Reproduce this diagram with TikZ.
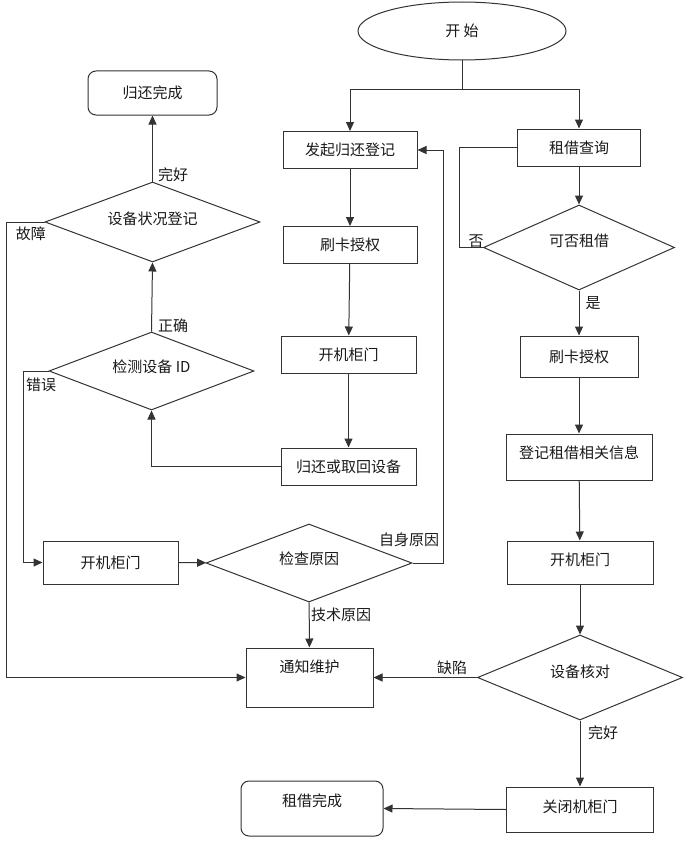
\documentclass[tikz,border=0pt]{standalone}
\usepackage{fontspec}
\setmainfont{Noto Sans CJK SC}
\usetikzlibrary{shapes.geometric,arrows.meta}

\begin{document}
\begin{tikzpicture}[x=1pt,y=-1pt,line width=1pt,draw=black!80,
  every node/.style={font=\fontsize{15}{18}\selectfont,text=black!90},
  box/.style={draw,rectangle,inner sep=0pt},
  dia/.style={draw,diamond,shape aspect=2.5,inner sep=0pt},
  lift/.style={text height=12pt,text depth=#1},
  arr/.style={-{Triangle[length=9pt,width=8pt]}}]
\useasboundingbox (0,0) rectangle (692,843);

\node[draw,ellipse,minimum width=208pt,minimum height=58pt](Start) at (462,31) {开 始};
\coordinate (Split) at (462,89);

\node[box,minimum width=134pt,minimum height=37pt](Ret) at (350,150) {发起归还登记};
\node[box,minimum width=134pt,minimum height=37pt](Card1) at (350,245) {刷卡授权};
\node[box,minimum width=135pt,minimum height=37pt](Open1) at (348.5,354.5) {开机柜门};
\node[box,minimum width=135pt,minimum height=37pt](Back) at (348.5,466.5) {归还或取回设备};

\node[dia,lift=10pt,minimum width=205pt,minimum height=78pt](Detect) at (151.5,371) {检测设备 ID};
\node[dia,lift=8pt,minimum width=215pt,minimum height=80pt](Status) at (152.5,222) {设备状况登记};
\node[box,rounded corners=8pt,minimum width=129pt,minimum height=44pt](Done1) at (152.5,93) {归还完成};

\node[box,minimum width=135pt,minimum height=43pt](Open0) at (110.5,562.5) {开机柜门};
\node[dia,lift=10pt,minimum width=206pt,minimum height=78pt](Cause) at (309,563) {检查原因};
\node[box,lift=23pt,minimum width=127pt,minimum height=59pt](Notify) at (309.5,677.5) {通知维护};

\node[box,minimum width=123pt,minimum height=37pt](Query) at (579,147.5) {租借查询};
\node[dia,lift=14pt,minimum width=191pt,minimum height=85pt](Can) at (579,247.5) {可否租借};
\node[box,minimum width=118pt,minimum height=41pt](Card2) at (579,356.5) {刷卡授权};
\node[box,lift=10pt,minimum width=146pt,minimum height=46pt](Info) at (579,457) {登记租借相关信息};
\node[box,lift=7pt,minimum width=146pt,minimum height=43pt](Open2) at (580,562.5) {开机柜门};
\node[dia,lift=13pt,minimum width=205pt,minimum height=85pt](Verify) at (580,677.5) {设备核对};
\node[box,lift=7pt,minimum width=147pt,minimum height=45pt](Close) at (580,809.5) {关闭机柜门};
\node[box,lift=17pt,rounded corners=8pt,minimum width=142pt,minimum height=55pt](Done2) at (312,808.5) {租借完成};

% start splits to both branches
\draw[-](Start) to (Split);
\draw[arr](Split) -| (Ret);
\draw[arr](Split) -| (Query);

% return branch
\draw[arr](Ret) to (Card1);
\draw[arr](Card1) to (Open1);
\draw[arr](Open1) to (Back);
\draw[arr](Back.west) -| (Detect.south);
\draw[arr](Detect.north) to (Status.south);
\node (Detect_ok) at (173,326) {正确};
\draw[arr](Status.north) to (Done1.south);
\node (Status_ok) at (173,175) {完好};
\draw[arr](Status.west) -- ++(-38,0) |- (Notify.west);
\node (Status_bad) at (31,234) {故障};
\draw[arr](Detect.west) -- ++(-25,0) |- (Open0.west);
\node (Detect_bad) at (41,385) {错误};
\draw[arr](Open0) to (Cause);
\draw[arr](Cause.east) -- ++(31,0) |- (Ret.east);
\node (Cause_self) at (409,540) {自身原因};
\draw[arr](Cause) to (Notify);
\node (Cause_tech) at (341,615) {技术原因};

% borrow branch
\draw[arr](Query) to (Can);
\draw[-](Query.west) -- ++(-58,0) |- (Can.west);
\node (Can_no) at (476,241) {否};
\draw[arr](Can) to (Card2);
\node (Can_yes) at (593,303) {是};
\draw[arr](Card2) to (Info);
\draw[arr](Info) to (Open2);
\draw[arr](Open2) to (Verify);
\draw[arr](Verify.west) to (Notify.east);
\node (Verify_bad) at (452,668) {缺陷};
\draw[arr](Verify) to (Close);
\node (Verify_ok) at (603,733) {完好};
\draw[arr](Close.west) to (Done2.east);

\end{tikzpicture}
\end{document}
